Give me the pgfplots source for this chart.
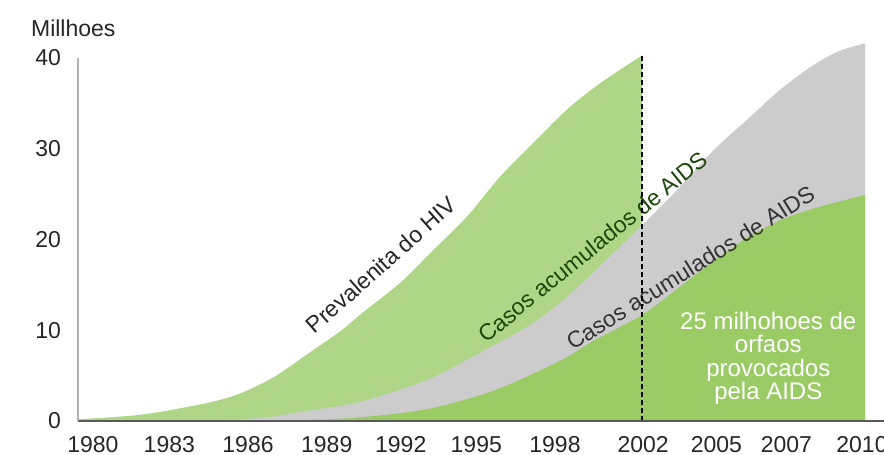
\documentclass[border=0pt]{standalone}
\usepackage{fontspec}
\setmainfont{Liberation Sans}
\usepackage{pgfplots}
\pgfplotsset{compat=1.18}

\definecolor{hivgreen}{RGB}{174,214,134}
\definecolor{orfgreen}{RGB}{155,203,101}
\definecolor{aidsgray}{RGB}{204,204,204}
\definecolor{txtgreen}{RGB}{28,72,10}

\begin{document}
\begin{tikzpicture}
\begin{axis}[
    scale only axis,
    width=403pt, height=181.5pt,
    xmin=0, xmax=10.24, ymin=0, ymax=40,
    clip=false,
    axis on top,
    axis x line*=bottom,
    axis y line*=left,
    x axis line style={draw=black!65, line width=1pt},
    y axis line style={draw=black!30, line width=1pt},
    major tick length=0pt,
    xtick={0.19,1.16,2.16,3.16,4.10,5.06,6.06,7.18,8.11,9.00,9.96},
    xticklabels={1980,1983,1986,1989,1992,1995,1998,2002,2005,2007,2010},
    ytick={0,10,20,30,40},
    tick label style={font=\fontsize{11.5}{13}\selectfont, text=black!85},
    /pgf/number format/assume math mode=true,
    yticklabel style={xshift=-5pt},
    xticklabel style={yshift=-4pt},
]
    % prevalencia do HIV
    \addplot[fill=hivgreen, draw=none, smooth] coordinates {
        (0,0.2) (0.81,0.7) (1.65,2.0) (2.08,3.1) (2.50,4.9) (2.92,7.4)
        (3.35,10.0) (3.61,11.9) (4.09,15.2) (4.51,18.8) (4.94,22.5)
        (5.36,26.9) (5.78,30.6) (6.21,34.3) (6.63,37.2) (7.17,40.3)
    } \closedcycle;

    % casos acumulados de AIDS
    \addplot[fill=aidsgray, draw=none, smooth] coordinates {
        (1.55,0) (2.08,0.2) (2.50,0.5) (2.82,1.0) (3.58,2.1) (4.43,4.5)
        (5.06,7.3) (5.71,10.4) (6.12,13.0) (6.54,16.3) (7.17,21.6)
        (7.65,25.8) (8.07,29.8) (8.50,33.2) (8.92,36.5) (9.34,39.2)
        (9.68,40.8) (10,41.6)
    } \closedcycle;

    % orfaos
    \addplot[fill=orfgreen, draw=none, smooth] coordinates {
        (1.55,0) (2.82,0.1) (3.58,0.4) (4.43,1.3) (5.27,3.3) (6.12,6.6)
        (6.54,8.8) (7.17,11.7) (7.65,14.8) (8.07,17.6) (8.50,20.2)
        (8.92,22.1) (9.34,23.4) (10,24.9)
    } \closedcycle;

    \node[font=\fontsize{11.5}{13}\selectfont, text=black!85] at (axis cs:-0.06,43.3) {Millhoes};

    \node[rotate=41.5, font=\fontsize{11.5}{13}\selectfont, text=black!85]
        at (axis cs:3.85,17.2) {Prevalenita do HIV};
    \node[rotate=39, font=\fontsize{11.5}{13}\selectfont, text=txtgreen]
        at (axis cs:6.54,19.2) {Casos acumulados de AIDS};
    \node[rotate=32, font=\fontsize{11.5}{13}\selectfont, text=black!80]
        at (axis cs:7.78,16.9) {Casos acumulados de AIDS};
    \node[align=center, font=\fontsize{12}{11.8}\selectfont, text=white]
        at (axis cs:8.77,6.9) {25 milhohoes de\\orfaos\\provocados\\pela AIDS};

    % 2002
    \addplot[black, line width=1.1pt, dash pattern=on 2.5pt off 1.5pt]
        coordinates {(7.17,0) (7.17,40.4)};

    \coordinate (bl) at (axis cs:-0.991,-3.64);
    \coordinate (tr) at (axis cs:10.24,46.39);
\end{axis}
\pgfresetboundingbox
\path[use as bounding box] (bl) rectangle (tr);
\end{tikzpicture}
\end{document}
